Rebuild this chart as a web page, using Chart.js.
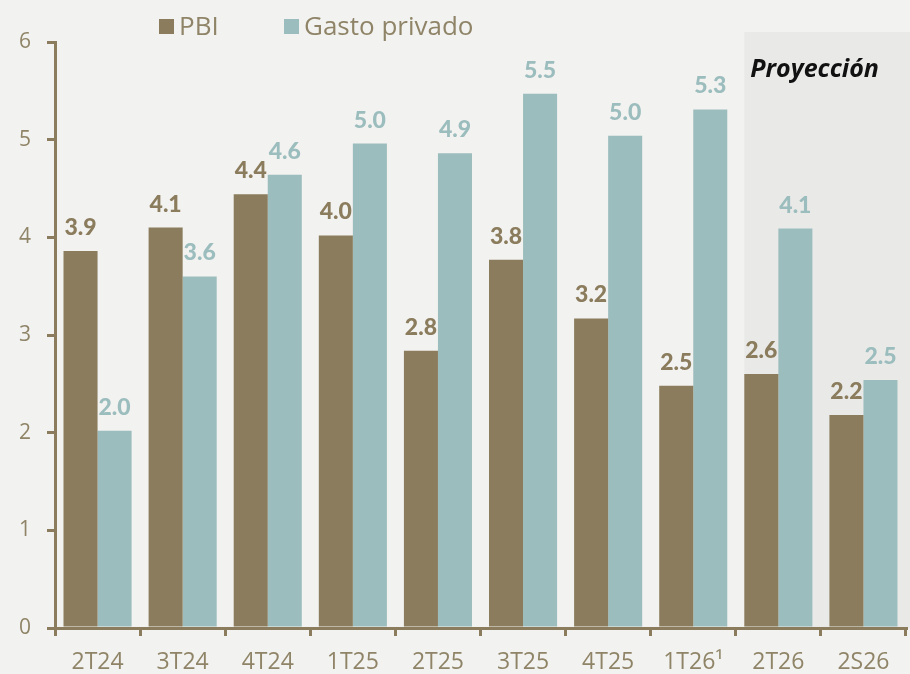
<!DOCTYPE html>
<html>
<head>
<meta charset="utf-8">
<script src="https://cdn.jsdelivr.net/npm/chart.js@4/dist/chart.umd.min.js"></script>
<style>
	html, body { margin: 0; padding: 0; background: #f2f2f0; }
	#wrap { width: 910px; height: 674px; }
</style>
</head>
<body>
<div id="wrap"><canvas id="chart" width="910" height="674"></canvas></div>
<script>
// Chart values
const categories = ['2T24', '3T24', '4T24', '1T25', '2T25', '3T25', '4T25', '1T26\u00B9', '2T26', '2S26'];
const pbi = [3.86, 4.10, 4.44, 4.02, 2.84, 3.77, 3.17, 2.48, 2.60, 2.18];
const gastoPrivado = [2.02, 3.60, 4.64, 4.96, 4.86, 5.47, 5.04, 5.31, 4.09, 2.54];
const seriesNames = ['PBI', 'Gasto privado'];
const projectionStart = 8; // first projected category
const projectionLabel = 'Proyección';

const brown = '#8a7c5c';
const teal = '#9cbdbd';
const tickColor = '#8f8467';

// Background, projection shading, legend and value labels
const decorPlugin = {
	id: 'decor',
	beforeDraw(chart) {
		const ctx = chart.ctx;
		ctx.save();
		ctx.fillStyle = '#f2f2f0';
		ctx.fillRect(0, 0, chart.width, chart.height);

		// Shade the projected quarters
		const bar = chart.getDatasetMeta(0).data[projectionStart];
		const x0 = bar.x - bar.width / 2;
		const area = chart.chartArea;
		ctx.fillStyle = '#e9eae8';
		ctx.fillRect(x0, area.top - 10, chart.width - x0, area.bottom - area.top + 10);

		ctx.fillStyle = '#111111';
		ctx.font = 'italic bold 25px "Open Sans"';
		ctx.textBaseline = 'alphabetic';
		ctx.fillText(projectionLabel, x0 + 6, 77);
		ctx.restore();
	},
	afterDatasetsDraw(chart) {
		const ctx = chart.ctx;
		ctx.save();
		ctx.font = '900 23px Lato';
		ctx.textAlign = 'center';
		ctx.textBaseline = 'alphabetic';
		chart.data.datasets.forEach((ds, i) => {
			chart.getDatasetMeta(i).data.forEach((el, j) => {
				ctx.fillStyle = ds.backgroundColor;
				ctx.fillText(ds.data[j].toFixed(1), el.x, el.y - 16);
			});
		});

		// Legend
		ctx.font = '26px "Open Sans"';
		ctx.textAlign = 'left';
		const items = [[159, brown], [284, teal]];
		items.forEach(([x, color], i) => {
			ctx.fillStyle = color;
			ctx.fillRect(x, 19, 15, 15);
			ctx.fillStyle = tickColor;
			ctx.fillText(seriesNames[i], x + 20, 35);
		});
		ctx.restore();
	}
};

new Chart(document.getElementById('chart'), {
	type: 'bar',
	data: {
		labels: categories,
		datasets: [
			{label: seriesNames[0], data: pbi, backgroundColor: brown},
			{label: seriesNames[1], data: gastoPrivado, backgroundColor: teal},
		]
	},
	options: {
		responsive: false,
		animation: false,
		layout: {padding: {top: 42, right: 4, left: 0, bottom: 0}},
		datasets: {
			bar: {categoryPercentage: 0.8, barPercentage: 1.0}
		},
		plugins: {
			legend: {display: false},
			tooltip: {enabled: false},
		},
		scales: {
			x: {
				afterFit: s => { s.height = 46; },
				grid: {display: true, drawOnChartArea: false, drawTicks: true, tickLength: 8, color: brown, lineWidth: 3, offset: true},
				border: {display: true, color: brown, width: 3},
				ticks: {color: tickColor, font: {family: '"Open Sans"', size: 23}, padding: 13, maxRotation: 0}
			},
			y: {
				min: 0,
				max: 6,
				afterFit: s => { s.width = 55; },
				grid: {display: true, drawOnChartArea: false, drawTicks: true, tickLength: 8, color: brown, lineWidth: 3},
				border: {display: true, color: brown, width: 3},
				ticks: {stepSize: 1, color: tickColor, font: {family: '"Open Sans"', size: 21}, padding: 16}
			}
		}
	},
	plugins: [decorPlugin]
});
</script>
</body>
</html>
